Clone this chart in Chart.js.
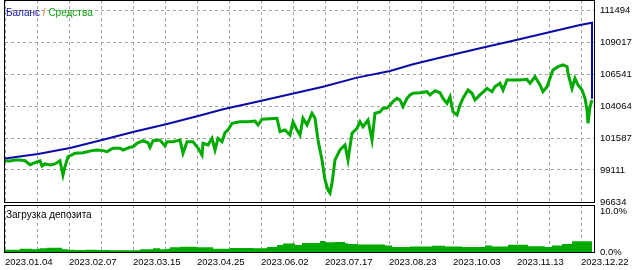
<!DOCTYPE html>
<html>
<head>
<meta charset="utf-8">
<script src="https://cdn.jsdelivr.net/npm/chart.js@4"></script>
<style>
    body { margin: 0; background: #fff; }
    #wrap { position: relative; width: 640px; height: 270px; overflow: hidden; font-family: "Liberation Sans", Arial, sans-serif; }
    canvas { position: absolute; left: 0; }
    .main { top: 0; }
    .load { top: 204px; }
    .frame { position: absolute; border: 1px solid #000; box-sizing: border-box; pointer-events: none; }
    .lbl { position: absolute; font-size: 10px; line-height: 12px; white-space: nowrap; }
</style>
</head>
<body>
<div id="wrap">
    <canvas id="mainGrid" class="main" width="640" height="205"></canvas>
    <canvas id="mainData" class="main" width="640" height="205"></canvas>
    <canvas id="loadGrid" class="load" width="640" height="66"></canvas>
    <canvas id="loadData" class="load" width="640" height="66"></canvas>
    <div class="frame" style="left:4px; top:0; width:591px; height:203px;"></div>
    <div class="frame" style="left:4px; top:205px; width:591px; height:48px;"></div>
    <div class="lbl" style="left:6px; top:7px;"><span style="color:#1010a0">Баланс</span> <span style="color:#d08010">/</span> <span style="color:#10a010">Средства</span></div>
    <div class="lbl" style="left:6px; top:209px; color:#000;">Загрузка депозита</div>
</div>
<script>
// x axis = deal number, dates shown under some of them
var dateTickIndex = [0, 64, 128, 192, 256, 320, 384, 448, 512, 576];
var dateLabels = ['2023.01.04', '2023.02.07', '2023.03.15', '2023.04.25', '2023.06.02',
                  '2023.07.17', '2023.08.23', '2023.10.03', '2023.11.13', '2023.12.22'];
var lastIndex = 589;

// main panel value ticks
var yTicks = [96634, 99111, 101587, 104064, 106541, 109017, 111494];
var yTop = 112269;

// balance (Баланс)
var balanceIndex = [0, 33, 65, 95, 128, 162, 195, 218, 252, 285, 318, 352, 385, 408, 442, 475, 508, 542, 575, 587, 587];
var balanceValues = [100000, 100350, 100810, 101390, 102050, 102670, 103330, 103810, 104400, 104970, 105560,
                     106260, 106770, 107290, 107930, 108530, 109120, 109740, 110330, 110510, 104630];

// equity (Средства)
var equityIndex = [0, 5, 10, 15, 20, 25, 30, 35, 37, 40, 45, 50, 55, 58, 60, 63, 70, 78, 87, 92, 98, 102, 108, 115,
    118, 125, 128, 132, 138, 143, 145, 148, 155, 160, 162, 168, 175, 178, 182, 188, 193, 197, 198, 203, 207, 210,
    213, 217, 220, 223, 227, 235, 243, 250, 253, 257, 265, 272, 275, 280, 285, 288, 292, 295, 298, 302, 307, 310,
    313, 317, 320, 323, 325, 327, 330, 335, 340, 343, 347, 352, 355, 358, 363, 367, 370, 375, 378, 382, 385, 388,
    392, 395, 398, 402, 405, 408, 415, 422, 425, 430, 435, 438, 442, 445, 448, 452, 455, 458, 463, 467, 470, 475,
    482, 487, 490, 495, 498, 502, 508, 515, 522, 525, 530, 535, 538, 542, 545, 548, 553, 558, 562, 563, 567, 570,
    573, 577, 580, 582, 583, 585, 587];
var equityValues = [99830, 99810, 99890, 99890, 99830, 99520, 99680, 99810, 99420, 99580, 99500, 99580, 99830, 98720,
    99370, 100140, 100400, 100450, 100610, 100660, 100610, 100530, 100790, 100790, 100660, 100870, 100910, 101180,
    101380, 101220, 100870, 101380, 101430, 100970, 101300, 101300, 101430, 100400, 101300, 101300, 100810, 100270,
    101180, 101050, 101560, 100660, 101560, 101300, 102000, 102210, 102730, 102850, 102850, 102900, 102590, 103040,
    103080, 103110, 102080, 102210, 101820, 102850, 102210, 101820, 103110, 102590, 103500, 103110, 101430, 99890,
    98340, 97560, 97330, 98080, 99890, 100660, 101050, 99890, 101950, 102340, 102850, 102460, 102980, 101430, 103500,
    103600, 103890, 103910, 104140, 104400, 104660, 104530, 104010, 104660, 104920, 105050, 105090, 105170, 104920,
    105250, 105090, 104660, 104270, 104780, 103620, 103370, 104140, 104660, 105300, 105050, 104530, 104920, 105430,
    105170, 105560, 105820, 105300, 106080, 106080, 106080, 106130, 105820, 106330, 105690, 105170, 105560, 106210,
    106850, 107110, 107240, 107110, 106600, 105430, 106210, 105690, 105300, 104660, 103760, 102730, 104010, 104530];

// deposit load (Загрузка депозита), percent
var loadIndex = [0, 15, 27, 32, 35, 42, 57, 63, 70, 80, 92, 105, 135, 142, 148, 155, 162, 165, 175, 192, 208, 225,
    248, 262, 272, 278, 290, 297, 315, 320, 330, 340, 343, 353, 380, 387, 405, 427, 440, 457, 480, 487, 503, 523,
    540, 547, 557, 567, 577, 587];
var loadValues = [0.4, 0.57, 0.8, 0.65, 0.8, 0.9, 1.05, 0.7, 0.57, 0.5, 0.57, 0.5, 0.4, 0.7, 0.65, 0.9, 0.65, 0.8,
    1.15, 1.3, 1.15, 0.8, 1.0, 0.9, 1.2, 1.7, 2.1, 1.7, 2.2, 2.7, 2.35, 2.45, 2.15, 1.95, 1.8, 1.6, 1.2, 1.35, 1.5,
    1.35, 1.2, 1.6, 1.35, 1.75, 1.4, 1.2, 1.6, 1.95, 2.6, 2.6];
var loadTicks = [0, 10];
var loadTop = 11.46;

function points(xs, ys) {
    return xs.map(function(x, i) { return { x: x, y: ys[i] }; });
}

var tickFont = { family: '"Liberation Sans", Arial, sans-serif', size: 9.5 };
var gridColor = '#a0a0a0';

function xTicks(scale) {
    var t = [];
    dateTickIndex.forEach(function(v) {
        t.push({ value: v });
        if (v + 32 <= lastIndex) t.push({ value: v + 32 });
    });
    scale.ticks = t;
}

function noPad(scale) {
    scale.paddingTop = 0; scale.paddingBottom = 0;
    scale.paddingLeft = 0; scale.paddingRight = 0;
}

// dashed grid only, no labels: drawn on its own canvas under the data
function gridScale(extra) {
    var s = {
        grid: { color: gridColor, drawTicks: false },
        border: { display: false, dash: [3, 3] },
        ticks: { display: false, autoSkip: false }
    };
    return Object.assign(s, extra);
}

// labels, no grid
function labelScale(extra, ticks) {
    var s = {
        grid: { display: false, drawTicks: false },
        border: { display: false },
        ticks: Object.assign({ color: '#000', font: tickFont, autoSkip: false, maxRotation: 0 }, ticks)
    };
    return Object.assign(s, extra);
}

var mainX = {
    type: 'linear', min: 0, max: lastIndex,
    afterBuildTicks: xTicks,
    afterFit: function(s) { s.height = 0; noPad(s); }
};
var mainY = {
    position: 'right', min: yTicks[0], max: yTop,
    afterBuildTicks: function(s) { s.ticks = yTicks.map(function(v) { return { value: v }; }); },
    afterFit: function(s) { s.width = 46; noPad(s); }
};
var loadX = {
    type: 'linear', min: 0, max: lastIndex,
    afterBuildTicks: xTicks,
    afterFit: function(s) { s.height = 18; noPad(s); }
};
var loadY = {
    position: 'right', min: 0, max: loadTop,
    afterBuildTicks: function(s) { s.ticks = loadTicks.map(function(v) { return { value: v }; }); },
    afterFit: function(s) { s.width = 46; noPad(s); }
};

function makeChart(id, datasets, scales, pad) {
    return new Chart(document.getElementById(id), {
        type: 'line',
        data: { datasets: datasets },
        options: {
            responsive: false,
            animation: false,
            events: [],
            layout: { padding: pad },
            plugins: { legend: { display: false }, tooltip: { enabled: false } },
            scales: scales
        }
    });
}

var mainPad = { left: 5, top: 0, right: 0, bottom: 3 };
var loadPad = { left: 5, top: 1, right: 0, bottom: 0 };

// main panel
makeChart('mainGrid', [], { x: gridScale(mainX), y: gridScale(mainY) }, mainPad);
makeChart('mainData', [{
    label: 'Баланс',
    data: points(balanceIndex, balanceValues),
    borderColor: '#0a0aa8',
    borderWidth: 2,
    pointRadius: 0,
    order: 0
}, {
    label: 'Средства',
    data: points(equityIndex, equityValues),
    borderColor: '#00aa00',
    borderWidth: 3,
    pointRadius: 0,
    order: 1
}], {
    x: labelScale(mainX, { display: false }),
    y: labelScale(mainY, { padding: 6, callback: function(v) { return String(v); } })
}, mainPad);

// deposit load panel
makeChart('loadGrid', [], { x: gridScale(loadX), y: Object.assign(gridScale(loadY), { grid: { display: false, drawTicks: false } }) }, loadPad);
makeChart('loadData', [{
    label: 'Загрузка депозита',
    data: points(loadIndex, loadValues),
    stepped: 'after',
    borderWidth: 0,
    borderColor: '#00aa00',
    backgroundColor: '#00aa00',
    fill: 'origin',
    pointRadius: 0
}], {
    x: labelScale(loadX, {
        align: 'start', padding: 5,
        callback: function(v) { var i = dateTickIndex.indexOf(v); return i >= 0 ? dateLabels[i] : ''; }
    }),
    y: labelScale(loadY, { padding: 6, callback: function(v) { return v.toFixed(1) + '%'; } })
}, loadPad);
</script>
</body>
</html>
